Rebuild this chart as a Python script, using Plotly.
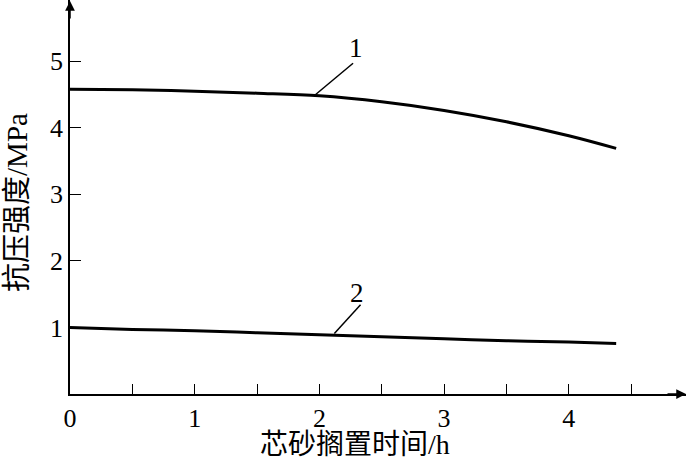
import plotly.graph_objects as go

# Data
time_h = [0, 0.5, 1, 1.5, 2, 2.5, 3, 3.5, 4, 4.38]
strength_1 = [4.58, 4.57, 4.55, 4.52, 4.48, 4.39, 4.26, 4.09, 3.88, 3.69]
strength_2 = [1.00, 0.97, 0.95, 0.92, 0.89, 0.86, 0.83, 0.80, 0.78, 0.76]

x_tickvals = [0, 0.5, 1, 1.5, 2, 2.5, 3, 3.5, 4, 4.5]
x_ticktext = ["0", "", "1", "", "2", "", "3", "", "4", ""]
y_tickvals = [1, 2, 3, 4, 5]
y_ticktext = ["1", "2", "3", "4", "5"]

x_title = "芯砂搁置时间/h"
y_title = "抗压强度/MPa"

curve_labels = ["1", "2"]
label_pos = [(2.29, 5.2), (2.30, 1.52)]
leader_from = [(1.97, 4.50), (2.12, 0.91)]
leader_to = [(2.27, 4.97), (2.33, 1.34)]

X_MAX = 4.94
Y_MAX = 5.92

FONT = "Liberation Serif, Times New Roman, Noto Sans CJK SC, serif"

fig = go.Figure()
for ys in (strength_1, strength_2):
    fig.add_trace(go.Scatter(x=time_h, y=ys, mode="lines",
                             line=dict(color="black", width=3, shape="spline"),
                             showlegend=False, hoverinfo="skip"))

for lab, (lx, ly), (fx, fy), (tx, ty) in zip(curve_labels, label_pos, leader_from, leader_to):
    fig.add_shape(type="line", x0=fx, y0=fy, x1=tx, y1=ty, xref="x", yref="y",
                  line=dict(color="black", width=1.5))
    fig.add_annotation(x=lx, y=ly, text=lab, showarrow=False, xref="x", yref="y",
                       font=dict(family=FONT, size=27, color="black"))

# axis arrows
fig.add_annotation(x=1, y=0, ax=-20, ay=0, xref="paper", yref="paper",
                   showarrow=True, arrowhead=2, arrowsize=1.3, arrowwidth=1.5, arrowcolor="black", text="")
fig.add_annotation(x=0, y=1, ax=0, ay=20, xref="paper", yref="paper",
                   showarrow=True, arrowhead=2, arrowsize=1.3, arrowwidth=1.5, arrowcolor="black", text="")

# axis titles
fig.add_annotation(x=0.463, y=-0.128, xref="paper", yref="paper", text=x_title, showarrow=False,
                   xanchor="center", yanchor="middle", font=dict(family=FONT, size=28, color="black"))
fig.add_annotation(x=-0.086, y=0.485, xref="paper", yref="paper", text=y_title, showarrow=False,
                   textangle=-90, xanchor="center", yanchor="middle",
                   font=dict(family=FONT, size=29, color="black"))

fig.update_layout(
    width=687, height=462,
    margin=dict(l=70, r=1, t=0, b=68, autoexpand=False),
    paper_bgcolor="white", plot_bgcolor="white",
    font=dict(family=FONT, size=26, color="black"),
    xaxis=dict(range=[0, X_MAX], showgrid=False, zeroline=False, automargin=False,
               showline=True, linecolor="black", linewidth=1.5,
               tickvals=x_tickvals, ticktext=x_ticktext,
               ticks="inside", ticklen=10, tickwidth=1.2, tickcolor="black",
               tickfont=dict(family=FONT, size=26)),
    yaxis=dict(range=[0, Y_MAX], showgrid=False, zeroline=False, automargin=False,
               showline=True, linecolor="black", linewidth=1.5,
               tickvals=y_tickvals, ticktext=y_ticktext,
               ticks="inside", ticklen=11, tickwidth=1.2, tickcolor="black",
               tickfont=dict(family=FONT, size=26)),
)

fig.write_html("out.html", config={"displayModeBar": False},
               post_script="document.body.style.margin='0';document.body.style.padding='0';")
